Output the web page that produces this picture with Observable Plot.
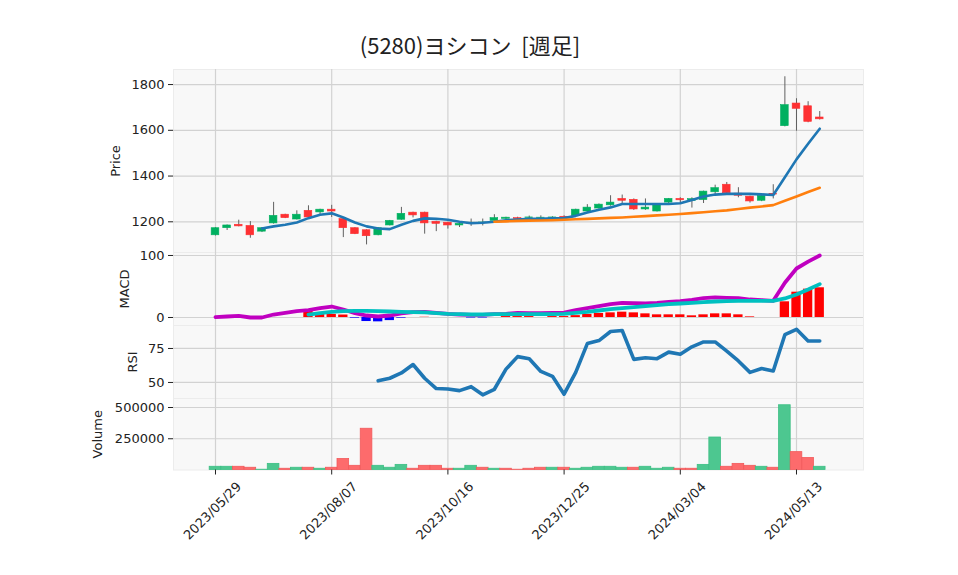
<!DOCTYPE html>
<html><head><meta charset="utf-8">
<script src="https://cdn.jsdelivr.net/npm/d3@7"></script>
<script src="https://cdn.jsdelivr.net/npm/@observablehq/plot@0.6"></script>
<style>
body{margin:0;background:#fff;}
#wrap{position:relative;width:958px;height:575px;overflow:hidden;background:#fff;}
#title{position:absolute;left:0;width:940px;top:29px;text-align:center;font-family:"Noto Sans CJK JP";font-size:22px;line-height:30px;white-space:pre;color:#222;}
</style></head><body>
<div id="wrap"><div id="title">(5280)ヨシコン  [週足]</div></div>
<script>
// ---- data (weekly, 53 weeks from 2023/05/29) ----
const opens  = [1141,1172,1187,1182,1157,1193,1231,1210,1248,1241,1253,1212,1172,1163,1141,1184,1209,1240,1240,1200,1196,1184,1190,1196,1204,1213,1216,1217,1216,1217,1222,1225,1245,1258,1272,1300,1296,1254,1245,1284,1300,1291,1295,1329,1362,1323,1310,1292,1322,1618,1717,1705,1656];
const highs  = [1174,1186,1207,1201,1174,1285,1233,1248,1270,1255,1272,1214,1174,1165,1174,1206,1263,1242,1242,1202,1198,1193,1212,1212,1231,1220,1220,1225,1226,1222,1226,1255,1275,1278,1314,1317,1300,1300,1274,1302,1305,1305,1334,1360,1372,1349,1312,1316,1362,1834,1738,1725,1682];
const lows   = [1138,1162,1178,1128,1153,1190,1214,1208,1217,1230,1219,1131,1144,1099,1139,1182,1207,1217,1146,1157,1168,1175,1180,1182,1202,1208,1210,1212,1204,1212,1214,1223,1240,1255,1268,1280,1250,1250,1243,1272,1280,1260,1280,1315,1318,1305,1282,1288,1300,1615,1596,1633,1645];
const closes = [1172,1184,1180,1141,1172,1226,1216,1231,1219,1253,1245,1172,1146,1137,1172,1204,1235,1228,1193,1191,1184,1191,1196,1197,1216,1218,1212,1219,1218,1219,1216,1253,1262,1275,1284,1292,1254,1262,1272,1300,1294,1299,1332,1347,1325,1314,1289,1314,1319,1710,1694,1637,1648];
const ma5  = [null,null,null,null,1171,1180,1187,1197,1216,1231,1237,1219,1197,1180,1171,1168,1187,1204,1215,1213,1209,1200,1194,1196,1200,1207,1210,1213,1213,1215,1216,1226,1241,1253,1263,1278,1278,1278,1278,1278,1281,1295,1311,1319,1322,1322,1322,1320,1317,1395,1473,1541,1607];
const ma25 = [null,null,null,null,null,null,null,null,null,null,null,null,null,null,null,null,null,null,null,null,null,null,null,null,1200,1202,1204,1205,1206,1207,1209,1211,1213,1215,1217,1219,1222,1225,1228,1231,1234,1238,1242,1246,1250,1256,1262,1267,1273,1292,1311,1330,1349];
const macd   = [0.5,1.6,2.7,0,0,4.8,7.5,10.2,11.8,15,17.7,12.9,7,3.2,1.6,3.2,6.5,8.6,9.1,7.5,5.9,4.8,4.3,4.3,5.4,5.9,7.5,7,7,7.5,8,11.8,15,18.3,21.5,23.7,23.1,22.6,23.7,25.3,26.4,28.5,31.2,32.3,31.7,31.2,29,28,26.9,56,79,90,100];
const signal = [null,null,null,null,null,null,null,null,4.8,7,9.1,10.2,10.7,10.7,10.2,9.7,9.1,8.6,8.1,7,5.9,5.4,4.8,4.8,5.4,5.4,5.4,5.4,5.4,5.6,6,7.5,9.1,11.3,13.4,15,16.7,18.3,19.9,21.5,22.6,23.7,24.7,25.8,26.4,26.9,26.9,26.9,26.9,30.7,37.1,45.2,53.8];
const hist   = [null,null,null,null,null,null,null,null,10,5,5,4,-1,-6.5,-7,-5,-1,0,0.4,0,0,0,-0.8,-0.8,0,1.5,1.5,1.5,0,1.5,1.5,3,5,6.5,7.5,8.6,7.5,5.9,4.3,4.3,4.3,2.7,4.3,5.9,5.9,4.3,1,0,0,25.3,40.8,45.7,47.9];
const rsi    = [null,null,null,null,null,null,null,null,null,null,null,null,null,null,51.2,53.1,57,63.2,53.1,45.5,45.2,44,46.9,40.9,45,59.8,69,67.5,58.1,54.5,41.4,57.4,78.6,80.8,87.5,88.2,67,68.2,67.5,72.3,70.7,76.2,79.8,79.8,73,65.8,57.4,60.3,58.4,85.1,89.1,80.5,80.5];
const volume = [25800,25800,25800,18000,2300,49000,10000,18000,18000,10000,18000,88000,33500,330000,33500,18000,41000,10000,33500,33500,10000,10000,33500,18000,10000,10000,2300,10000,18000,18000,18000,10000,18000,25800,25800,18000,18000,25800,10000,18000,10000,10000,41000,260000,25800,49000,33500,25800,18000,518000,143000,96000,25800];
const volUp  = [1,1,0,0,1,1,0,1,0,1,0,0,0,0,1,1,1,0,0,0,0,1,1,0,1,0,0,0,0,1,0,1,1,1,1,1,0,1,1,1,0,0,1,1,0,0,0,1,0,1,0,0,1];
const tickIdx    = [0,10,20,30,40,50];
const tickLabels = ["2023/05/29","2023/08/07","2023/10/16","2023/12/25","2024/03/04","2024/05/13"];
const priceTicks = [1200,1400,1600,1800];
const macdTicks  = [0,100];
const rsiTicks   = [50,75];
const volTicks   = [250000,500000];

const rows = closes.map((c,i)=>({i, open:opens[i], high:highs[i], low:lows[i], close:c,
  ma5:ma5[i], ma25:ma25[i], macd:macd[i], signal:signal[i], hist:hist[i], rsi:rsi[i], vol:volume[i], vup:volUp[i]}));

const X_DOMAIN = [-3.614, 55.766];
const GRID = "#d2d2d2", BG = "#f8f8f8";
const UP = "#00b060", DOWN = "#fe3032";
const style = {fontFamily:"DejaVu Sans", fontSize:"13px", background:"transparent", overflow:"visible", color:"#222"};
const wrap = document.getElementById("wrap");

function place(svg, top){ svg.style.position="absolute"; svg.style.left="0px"; svg.style.top=top+"px"; wrap.appendChild(svg); }
function base(yTicks, label, dx){
  return [
    Plot.frame({fill:BG, stroke:"#ececec"}),
    Plot.ruleX(tickIdx, {x:d=>d, stroke:GRID, strokeWidth:1.2}),
    Plot.ruleY(yTicks, {y:d=>d, stroke:GRID, strokeWidth:1.2}),
    Plot.axisY({ticks:yTicks, tickSize:5, tickPadding:4, label:null, tickFormat:d=>String(d)}),
    Plot.text([label], {text:d=>d, frameAnchor:"left", dx:dx, rotate:-90, textAnchor:"middle", fill:"#222"})
  ];
}

// Price panel
place(Plot.plot({
  width:958, height:192, marginLeft:173, marginRight:95, marginTop:9, marginBottom:0, style,
  x:{domain:X_DOMAIN, axis:null}, y:{domain:[1065.8,1865.8], axis:null},
  marks:[
    ...base(priceTicks, "Price", -58),
    Plot.ruleX(rows, {x:"i", y1:"low", y2:"high", stroke:"#606060", strokeWidth:1}),
    Plot.rect(rows, {x1:d=>d.i-0.33, x2:d=>d.i+0.33, y1:"open", y2:"close",
      fill:d=>d.close>=d.open?UP:DOWN, stroke:d=>d.close>=d.open?UP:DOWN, strokeWidth:0.6}),
    Plot.line(rows, {x:"i", y:"ma5", stroke:"#1f77b4", strokeWidth:2.6}),
    Plot.line(rows, {x:"i", y:"ma25", stroke:"#ff7f0e", strokeWidth:2.6})
  ]
}), 60);

// MACD panel
place(Plot.plot({
  width:958, height:73, marginLeft:173, marginRight:95, marginTop:0, marginBottom:0, style,
  x:{domain:X_DOMAIN, axis:null}, y:{domain:[-12.9,104.8], axis:null},
  marks:[
    ...base(macdTicks, "MACD", -49),
    Plot.rect(rows.filter(d=>d.hist!=null), {x1:d=>d.i-0.4, x2:d=>d.i+0.4, y1:0, y2:"hist",
      fill:d=>d.hist>=0?"#ff0000":"#0000ff"}),
    Plot.line(rows, {x:"i", y:"macd", stroke:"#c000c0", strokeWidth:3.8}),
    Plot.line(rows, {x:"i", y:"signal", stroke:"#00c0c0", strokeWidth:3.8})
  ]
}), 252);

// RSI panel
place(Plot.plot({
  width:958, height:73, marginLeft:173, marginRight:95, marginTop:0, marginBottom:0, style,
  x:{domain:X_DOMAIN, axis:null}, y:{domain:[38.2,91.9], axis:null},
  marks:[
    ...base(rsiTicks, "RSI", -41),
    Plot.line(rows, {x:"i", y:"rsi", stroke:"#1f77b4", strokeWidth:3.6})
  ]
}), 325);

// Volume panel
place(Plot.plot({
  width:958, height:177, marginLeft:173, marginRight:95, marginTop:0, marginBottom:105.5, style,
  x:{domain:X_DOMAIN, axis:null}, y:{domain:[0,572000], axis:null},
  marks:[
    ...base(volTicks, "Volume", -76),
    Plot.rect(rows, {x1:d=>d.i-0.5, x2:d=>d.i+0.5, y1:0, y2:"vol",
      fill:d=>d.vup?"#4dc790":"#fd6b6c", stroke:d=>d.vup?"#3cbf84":"#f25a5b", strokeWidth:0.8}),
    Plot.axisX({ticks:tickIdx, tickSize:5, tickFormat:()=>"", label:null}),
    Plot.text(tickIdx, {x:d=>d, text:(d,j)=>tickLabels[j], frameAnchor:"bottom", dy:44, rotate:-45,
      textAnchor:"middle", fill:"#222"})
  ]
}), 398);
</script>
</body></html>
